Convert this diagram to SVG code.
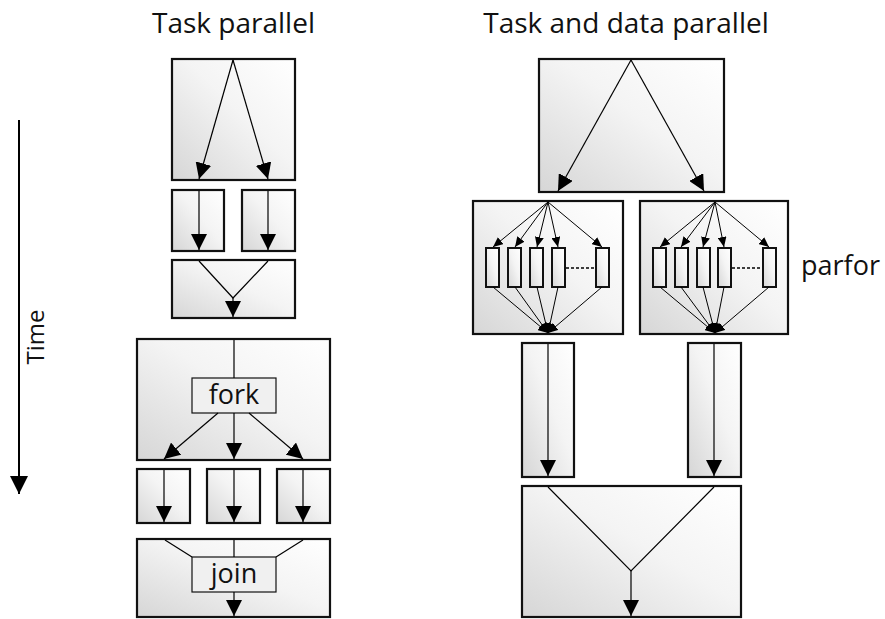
<svg xmlns="http://www.w3.org/2000/svg" width="885" height="619" viewBox="0 0 885 619">
  <defs>
    <linearGradient id="shade" x1="0" y1="1" x2="1" y2="0">
      <stop offset="0" stop-color="#d6d6d6"/>
      <stop offset="0.55" stop-color="#f4f4f4"/>
      <stop offset="1" stop-color="#ffffff"/>
    </linearGradient>
    <marker id="ah" markerUnits="userSpaceOnUse" markerWidth="17" markerHeight="16" refX="16" refY="8" orient="auto">
      <path d="M0,0 L16,8 L0,16 z" fill="#000"/>
    </marker>
    <marker id="ahs" markerUnits="userSpaceOnUse" markerWidth="11" markerHeight="9" refX="10" refY="4.5" orient="auto">
      <path d="M0,0 L10,4.5 L0,9 z" fill="#000"/>
    </marker>
    <marker id="aht" markerUnits="userSpaceOnUse" markerWidth="18" markerHeight="18" refX="18" refY="9" orient="auto">
      <path d="M0,0 L18,9 L0,18 z" fill="#000"/>
    </marker>
    <style>
      .box { fill: url(#shade); stroke: #111; stroke-width: 2.2; }
      .cell { fill: url(#shade); stroke: #111; stroke-width: 2; }
      .lbl { fill: #f0f0f0; stroke: #111; stroke-width: 1.2; }
      .ln { fill: none; stroke: #000; stroke-width: 1.2; }
      .arr { fill: none; stroke: #000; stroke-width: 1.2; marker-end: url(#ah); }
      .arrs { fill: none; stroke: #000; stroke-width: 1; marker-end: url(#ahs); }
      .dots { fill: none; stroke: #000; stroke-width: 1.5; stroke-dasharray: 3 2; }
      text { font-family: "Open Sans", "Noto Sans", "Liberation Sans", sans-serif; fill: #111; }
      .title { font-size: 28px; text-anchor: middle; }
      .tag { font-size: 27px; text-anchor: middle; }
    </style>
  </defs>

  <!-- column headings -->
  <text class="title" x="233.5" y="33">Task parallel</text>
  <text class="title" x="626" y="33">Task and data parallel</text>

  <!-- time axis -->
  <g id="time-axis">
    <line x1="19" y1="120" x2="19" y2="494" stroke="#000" stroke-width="2" marker-end="url(#aht)"/>
    <text x="0" y="0" font-size="24" text-anchor="middle" transform="translate(44,337) rotate(-90)">Time</text>
  </g>

  <!-- left column: task parallel -->
  <g id="tp-split">
    <rect class="box" x="172" y="59" width="123" height="121"/>
  </g>
  <g id="tp-task-a">
    <rect class="box" x="172" y="190" width="52" height="61"/>
  </g>
  <g id="tp-task-b">
    <rect class="box" x="242" y="190" width="53" height="61"/>
  </g>
  <g id="tp-merge">
    <rect class="box" x="172" y="260" width="123" height="58"/>
  </g>
  <g id="tp-fork">
    <rect class="box" x="137" y="339" width="193" height="121"/>
    <rect class="lbl" x="192" y="378" width="84" height="35"/>
    <text class="tag" x="234" y="404">fork</text>
  </g>
  <g id="tp-fork-task-a">
    <rect class="box" x="137" y="469" width="53" height="54"/>
  </g>
  <g id="tp-fork-task-b">
    <rect class="box" x="207" y="469" width="53" height="54"/>
  </g>
  <g id="tp-fork-task-c">
    <rect class="box" x="277" y="469" width="53" height="54"/>
  </g>
  <g id="tp-join">
    <rect class="box" x="137" y="539" width="193" height="78"/>
    <rect class="lbl" x="192" y="557" width="84" height="35"/>
    <text class="tag" x="234" y="583">join</text>
  </g>

  <!-- right column: task and data parallel -->
  <g id="tdp-split">
    <rect class="box" x="539" y="59" width="185" height="133"/>
  </g>
  <g id="tdp-parfor-a">
    <rect class="box" x="473" y="201" width="150" height="133"/>
    <rect class="cell" x="486" y="248" width="13" height="39"/>
    <rect class="cell" x="508" y="248" width="13" height="39"/>
    <rect class="cell" x="530" y="248" width="13" height="39"/>
    <rect class="cell" x="552" y="248" width="13" height="39"/>
    <rect class="cell" x="596" y="248" width="13" height="39"/>
    <line class="dots" x1="566" y1="268" x2="595" y2="268"/>
  </g>
  <g id="tdp-parfor-b">
    <rect class="box" x="640" y="201" width="148" height="133"/>
    <rect class="cell" x="653" y="248" width="13" height="39"/>
    <rect class="cell" x="675" y="248" width="13" height="39"/>
    <rect class="cell" x="697" y="248" width="13" height="39"/>
    <rect class="cell" x="718" y="248" width="13" height="39"/>
    <rect class="cell" x="763" y="248" width="13" height="39"/>
    <line class="dots" x1="732" y1="268" x2="762" y2="268"/>
  </g>
  <text x="801" y="275" font-size="27">parfor</text>
  <g id="tdp-task-a">
    <rect class="box" x="522" y="343" width="52" height="134"/>
  </g>
  <g id="tdp-task-b">
    <rect class="box" x="688" y="343" width="53" height="134"/>
  </g>
  <g id="tdp-merge">
    <rect class="box" x="522" y="486" width="219" height="131"/>
  </g>

  <!-- connectors -->
  <g id="connectors">
    <!-- task parallel -->
    <line class="arr" x1="233" y1="60" x2="199" y2="179"/>
    <line class="arr" x1="233" y1="60" x2="268" y2="179"/>
    <line class="arr" x1="199" y1="191" x2="199" y2="250"/>
    <line class="arr" x1="268" y1="191" x2="268" y2="250"/>
    <polyline class="ln" points="199,261 233,298 268,261"/>
    <line class="arr" x1="233" y1="298" x2="233" y2="317"/>

    <line class="ln" x1="234" y1="340" x2="234" y2="378"/>
    <line class="arr" x1="218" y1="413" x2="164" y2="459"/>
    <line class="arr" x1="234" y1="413" x2="234" y2="459"/>
    <line class="arr" x1="249" y1="413" x2="303" y2="459"/>
    <line class="arr" x1="164" y1="470" x2="164" y2="522"/>
    <line class="arr" x1="234" y1="470" x2="234" y2="522"/>
    <line class="arr" x1="303" y1="470" x2="303" y2="522"/>

    <line class="ln" x1="165" y1="540" x2="192" y2="557"/>
    <line class="ln" x1="303" y1="540" x2="276" y2="557"/>
    <line class="ln" x1="234" y1="540" x2="234" y2="557"/>
    <line class="arr" x1="234" y1="592" x2="234" y2="616"/>

    <!-- task and data parallel -->
    <line class="arr" x1="631" y1="60" x2="558" y2="191"/>
    <line class="arr" x1="631" y1="60" x2="704" y2="191"/>

    <line class="arrs" x1="548" y1="202" x2="493" y2="247"/>
    <line class="arrs" x1="548" y1="202" x2="515" y2="247"/>
    <line class="arrs" x1="548" y1="202" x2="537" y2="247"/>
    <line class="arrs" x1="548" y1="202" x2="558" y2="247"/>
    <line class="arrs" x1="548" y1="202" x2="602" y2="247"/>
    <line class="arrs" x1="493" y1="287" x2="548" y2="333"/>
    <line class="arrs" x1="515" y1="287" x2="548" y2="333"/>
    <line class="arrs" x1="537" y1="287" x2="548" y2="333"/>
    <line class="arrs" x1="558" y1="287" x2="548" y2="333"/>
    <line class="arrs" x1="602" y1="287" x2="548" y2="333"/>

    <line class="arrs" x1="715" y1="202" x2="660" y2="247"/>
    <line class="arrs" x1="715" y1="202" x2="681" y2="247"/>
    <line class="arrs" x1="715" y1="202" x2="703" y2="247"/>
    <line class="arrs" x1="715" y1="202" x2="724" y2="247"/>
    <line class="arrs" x1="715" y1="202" x2="769" y2="247"/>
    <line class="arrs" x1="660" y1="287" x2="715" y2="333"/>
    <line class="arrs" x1="681" y1="287" x2="715" y2="333"/>
    <line class="arrs" x1="703" y1="287" x2="715" y2="333"/>
    <line class="arrs" x1="724" y1="287" x2="715" y2="333"/>
    <line class="arrs" x1="769" y1="287" x2="715" y2="333"/>

    <line class="arr" x1="548" y1="344" x2="548" y2="476"/>
    <line class="arr" x1="714" y1="344" x2="714" y2="476"/>

    <polyline class="ln" points="548,487 631,571 714,487"/>
    <line class="arr" x1="631" y1="571" x2="631" y2="616"/>
  </g>
</svg>
